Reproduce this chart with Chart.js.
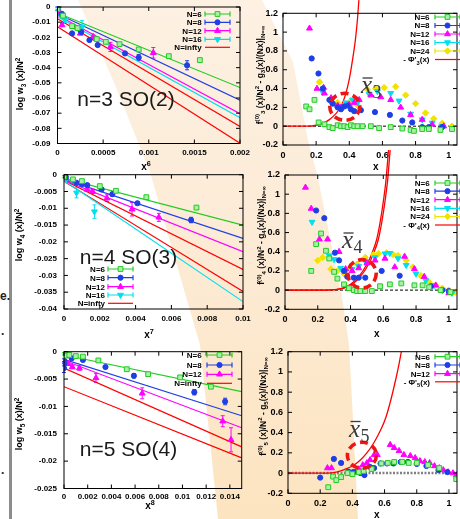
<!DOCTYPE html>
<html><head><meta charset="utf-8">
<script src="https://cdn.jsdelivr.net/npm/chart.js@4.4.0/dist/chart.umd.min.js"></script>
<style>
html,body{margin:0;padding:0;background:#fff;width:460px;height:519px;overflow:hidden;position:relative}
#wedge{position:absolute;left:0;top:0;width:460px;height:519px;
 clip-path:polygon(78px 0,115px 85px,150px 172px,200px 345px,218px 519px,358px 519px,352px 400px,349px 345px,343px 303px,318px 178px,308px 140px,293px 62px,262px 0);
 background:linear-gradient(180deg,#fdf1e3 0%,#fcebd6 45%,#fde4c0 100%)}
#vline{position:absolute;left:9px;top:0;width:3px;height:519px;background:#8c8c8c}
.frag{position:absolute;font:bold 12px 'Liberation Sans',Arial,sans-serif;color:#222}
</style></head><body>
<div id="wedge"></div>
<div id="vline"></div>
<div class="frag" style="left:0;top:289px">e.</div>
<div class="frag" style="left:1px;top:324px">.</div>
<div class="frag" style="left:1px;top:463px">.</div>
<script>
// ---------------- DATA ----------------
const seriesLabels = ['N=6','N=8','N=12','N=16','N=24','N=infty'];

// Panel 1: n=3 SO(2), x^6
const p1XTicks = [0,0.0005,0.001,0.0015,0.002];
const p1YTicks = [0,-0.01,-0.02,-0.03,-0.04,-0.05,-0.06,-0.07,-0.08,-0.09];
const p1N6x = [0,0.00006,0.00016,0.00022,0.00043,0.00053,0.00068,0.00089,0.00122,0.00156];
const p1N6y = [-0.0013,-0.0057,-0.0126,-0.0139,-0.0212,-0.023,-0.0245,-0.028,-0.0324,-0.035];
const p1N6e = [0.001,0.001,0.001,0.001,0.001,0.001,0.001,0.001,0.001,0.001];
const p1N8x = [0,0.00005,0.00016,0.00026,0.00035,0.00044,0.00074,0.00089,0.00142];
const p1N8y = [-0.0009,-0.0046,-0.0174,-0.0165,-0.0218,-0.0251,-0.0306,-0.0333,-0.0384];
const p1N8e = [0.001,0.001,0.001,0.001,0.001,0.001,0.001,0.002,0.003];
const p1N12x = [0.00002,0.00005,0.00025,0.00039,0.00058,0.00105];
const p1N12y = [-0.003,-0.0119,-0.0174,-0.0196,-0.0263,-0.0302];
const p1N12e = [0.001,0.001,0.001,0.001,0.003,0.0035];
const p1N16x = [0,0.00003,0.00008,0.00027];
const p1N16y = [-0.0016,-0.004,-0.0085,-0.013];
const p1N16e = [0.001,0.001,0.002,0.004];
const p1FitX = [0,0.002];
const p1FitN6 = [-0.004,-0.0531], p1FitN8 = [-0.0045,-0.0615], p1FitN12 = [-0.0055,-0.0703],
      p1FitN16 = [-0.0064,-0.073], p1FitInfA = [-0.0077,-0.0788], p1FitInfB = [-0.013,-0.0898];

// Panel 2: n=4 SO(3), x^7
const p2XTicks = [0,0.002,0.004,0.006,0.008,0.01];
const p2YTicks = [0,-0.005,-0.01,-0.015,-0.02,-0.025,-0.03,-0.035,-0.04];
const p2N6x = [0,0.0005,0.001,0.002,0.0029,0.0046,0.0074];
const p2N6y = [-0.0006,-0.0014,-0.0019,-0.0034,-0.0048,-0.0067,-0.0098];
const p2N6e = [0.0003,0.0003,0.0003,0.0003,0.0003,0.0003,0.0004];
const p2N8x = [0.0001,0.0007,0.001,0.0013,0.0021,0.0027,0.0041,0.0071];
const p2N8y = [-0.0007,-0.0024,-0.0028,-0.0031,-0.0044,-0.0058,-0.0085,-0.0135];
const p2N8e = [0.0003,0.0003,0.0003,0.0003,0.0004,0.0005,0.0005,0.0008];
const p2N12x = [0.0001,0.0013,0.0016,0.0024,0.0038,0.0053];
const p2N12y = [-0.001,-0.0044,-0.005,-0.007,-0.0103,-0.0127];
const p2N12e = [0.0003,0.0005,0.0006,0.001,0.002,0.0012];
const p2N16x = [0.0001,0.0007,0.0017];
const p2N16y = [-0.0015,-0.0054,-0.011];
const p2N16e = [0.0004,0.0015,0.002];
const p2FitX = [0,0.01];
const p2FitN6 = [-0.0011,-0.015], p2FitN8 = [-0.0014,-0.019], p2FitN12 = [-0.0017,-0.0229],
      p2FitN16 = [-0.0017,-0.0378], p2FitInfA = [-0.0017,-0.0282], p2FitInfB = [-0.002,-0.0348];

// Panel 3: n=5 SO(4), x^8
const p3XTicks = [0,0.002,0.004,0.006,0.008,0.01,0.012,0.014];
const p3YTicks = [0,-0.005,-0.01,-0.015,-0.02,-0.025];
const p3N6x = [0,0.0002,0.00045,0.001,0.0016,0.0029,0.0053,0.0071,0.0098,0.0124];
const p3N6y = [-0.0004,-0.0007,-0.0006,-0.0008,-0.0009,-0.0016,-0.0032,-0.0041,-0.0047,-0.0064];
const p3N6e = [0.0002,0.0002,0.0002,0.0002,0.0002,0.0002,0.0002,0.0002,0.0002,0.0002];
const p3N8x = [0,0,0,0.00065,0.0016,0.0035,0.0059,0.011,0.0136];
const p3N8y = [-0.0016,-0.0022,-0.003,-0.0012,-0.0015,-0.0028,-0.0044,-0.0074,-0.0091];
const p3N8e = [0.0003,0.0004,0.0008,0.0003,0.0003,0.0003,0.0004,0.0005,0.0006];
const p3N12x = [0.0001,0.00036,0.0007,0.0013,0.0027,0.0066,0.0134,0.0141];
const p3N12y = [-0.0019,-0.0022,-0.0028,-0.003,-0.0048,-0.0076,-0.0127,-0.0161];
const p3N12e = [0.0003,0.0003,0.0003,0.0004,0.0008,0.001,0.001,0.0022];
const p3FitX = [0,0.015];
const p3FitN6 = [-0.0006,-0.0073], p3FitN8 = [-0.0014,-0.0117], p3FitN12 = [-0.0016,-0.0139],
      p3FitInfA = [-0.003,-0.0174], p3FitInfB = [-0.0064,-0.0194];

// Right panels: x ticks / y ticks
const rXTicks = [0,0.2,0.4,0.6,0.8,1];
const rYTicks = [-0.2,0,0.2,0.4,0.6,0.8,1,1.2];
const zeroX = [0,1.05], zeroY = [0,0];

// RT n=3
const rtN6x = [0.14,0.16,0.19,0.215,0.25,0.28,0.30,0.33,0.35,0.37,0.39,0.41,0.43,0.45,0.48,0.53,0.58,0.65,0.72,0.77,0.79,0.84,0.88,0.95,1.02];
const rtN6y = [0.21,0.18,0.28,0.04,0.02,-0.01,-0.02,0.01,0.0,0.0,-0.01,0.01,0.0,0.0,0.0,0.0,-0.02,-0.01,-0.025,-0.04,-0.05,-0.03,-0.03,-0.04,-0.03];
const rtN8x = [0.173,0.214,0.24,0.28,0.30,0.33,0.35,0.37,0.39,0.41,0.43,0.47,0.555,0.645,0.72,0.78,0.84,0.88,0.96];
const rtN8y = [0.72,0.56,0.40,0.28,0.24,0.20,0.18,0.21,0.22,0.18,0.16,0.17,0.15,0.12,0.06,0.04,-0.01,-0.01,-0.01];
const rtN12x = [0.16,0.205,0.245,0.25,0.29,0.33,0.35,0.40,0.43,0.46,0.53,0.59,0.65,0.71,0.77,0.84,0.90,0.97];
const rtN12y = [1.04,0.40,0.41,0.35,0.30,0.22,0.20,0.23,0.25,0.28,0.33,0.31,0.28,0.20,0.12,0.07,0.02,0.0];
const rtN16x = [0.24,0.29,0.32,0.35,0.38,0.42,0.45,0.52,0.57,0.65,0.70,0.77,0.84,0.90,0.96];
const rtN16y = [0.36,0.25,0.22,0.21,0.25,0.28,0.25,0.34,0.37,0.35,0.27,0.13,0.07,0.035,0.0];
const rtN24x = [0.22,0.33,0.37,0.41,0.45,0.51,0.56,0.61,0.68,0.74,0.80,0.86,0.91,0.96,1.02];
const rtN24y = [0.47,0.25,0.22,0.27,0.22,0.39,0.40,0.41,0.42,0.33,0.24,0.14,0.08,0.03,0.0];
const rtPhiX = [0,0.15,0.2,0.24,0.28,0.315,0.35,0.378,0.4,0.42,0.437,0.45,0.458];
const rtPhiY = [0,0,0.01,0.03,0.07,0.125,0.21,0.34,0.5,0.71,0.92,1.15,1.34];

// RM n=4
const rmN6x = [0.16,0.19,0.22,0.25,0.27,0.30,0.32,0.36,0.39,0.42,0.44,0.46,0.49,0.53,0.58,0.64,0.71,0.79,0.84,0.88,0.95,1.01];
const rmN6y = [0.20,0.48,0.59,0.41,0.33,0.19,0.12,0.06,0.02,0.0,-0.01,-0.01,-0.01,-0.01,0.04,0.06,0.07,0.05,0.05,0.03,0.0,-0.02];
const rmN8x = [0.19,0.24,0.305,0.33,0.36,0.38,0.42,0.45,0.49,0.59,0.70,0.89,0.96,1.0];
const rmN8y = [0.83,0.75,0.39,0.31,0.20,0.14,0.13,0.13,0.13,0.20,0.15,0.04,0.0,-0.01];
const rmN12x = [0.125,0.16,0.21,0.26,0.33,0.37,0.41,0.45,0.50,0.55,0.61,0.67,0.73,0.79,0.85,0.92,1.0];
const rmN12y = [1.07,0.85,0.53,0.53,0.40,0.22,0.20,0.23,0.28,0.31,0.33,0.24,0.35,0.22,0.14,0.05,-0.03];
const rmN16x = [0.165,0.27,0.30,0.34,0.37,0.41,0.45,0.49,0.55,0.61,0.64,0.69,0.74,0.80,0.86,0.91,0.96,1.02];
const rmN16y = [0.71,0.36,0.32,0.23,0.20,0.22,0.25,0.30,0.34,0.38,0.385,0.33,0.26,0.17,0.10,0.05,0.0,-0.03];
const rmN24x = [0.20,0.23,0.28,0.32,0.36,0.40,0.44,0.49,0.54,0.57,0.62,0.66,0.69,0.74,0.78,0.83,0.88,0.92,0.96,1.0,1.04];
const rmN24y = [0.31,0.34,0.22,0.20,0.17,0.22,0.27,0.34,0.37,0.38,0.39,0.37,0.36,0.31,0.24,0.15,0.08,0.05,0.02,0.0,-0.02];
const rmPhiAx = [0,0.25,0.3,0.35,0.4,0.45,0.5,0.53,0.56,0.58,0.6,0.615,0.632];
const rmPhiAy = [0,0,0.005,0.02,0.06,0.14,0.27,0.38,0.53,0.7,0.92,1.12,1.46];
const rmPhiBx = [0,0.26,0.31,0.36,0.41,0.46,0.51,0.54,0.57,0.59,0.61,0.625,0.642];
const rmPhiBy = [0,0,0.005,0.02,0.06,0.14,0.27,0.38,0.53,0.7,0.92,1.12,1.46];

// RB n=5
const rbN6x = [0.25,0.28,0.30,0.33,0.37,0.40,0.44,0.47,0.52,0.58,0.62,0.66,0.71,0.75,0.80,0.87,0.94,1.045];
const rbN6y = [-0.14,-0.035,-0.07,-0.04,0.0,-0.01,0.01,0.02,0.04,0.095,0.10,0.11,0.11,0.10,0.10,0.08,0.05,-0.06];
const rbN8x = [0.20,0.285,0.33,0.375,0.405,0.425,0.45,0.475,0.51,0.535,0.575,0.615,0.655,0.70,0.745,0.80,0.86,0.935,0.99];
const rbN8y = [-0.045,0.14,0.10,0.015,0.01,0.015,0.0,-0.02,0.06,0.05,0.095,0.095,0.095,0.11,0.11,0.09,0.07,0.03,0.01];
const rbN12x = [0.245,0.27,0.44,0.465,0.49,0.51,0.535,0.555,0.635,0.66,0.69,0.72,0.76,0.79,0.82,0.85,0.88,0.91,0.94,0.965,0.995,1.025,1.045];
const rbN12y = [0.05,0.05,0.04,0.08,0.10,0.13,0.18,0.18,0.28,0.25,0.22,0.18,0.17,0.15,0.12,0.11,0.10,0.07,0.05,0.03,0.01,0.0,-0.02];
const rbPhiX = [0,0.25,0.3,0.35,0.4,0.45,0.49,0.53,0.58,0.61,0.64,0.67,0.69,0.71];
const rbPhiY = [0,0,0.01,0.035,0.07,0.13,0.2,0.29,0.44,0.56,0.73,0.93,1.08,1.25];

// ---------------- STYLE / HELPERS ----------------
const F = "'Liberation Sans', Arial, sans-serif";
const SERIF = "'Liberation Serif','DejaVu Serif',serif";
Chart.defaults.font.family = F;
const COL = {g:'#22cc22', gFill:'#a8f0a8', b:'#1f3fe6', m:'#ff00ff', c:'#00dff0', y:'#f2e200', r:'#ff0000'};
const STY = {
  n6:{ps:'rect', r:3.4, col:COL.g, fill:COL.gFill},
  n8:{ps:'circle', r:2.6, col:COL.b, fill:COL.b},
  n12:{ps:'triangle', r:3.4, col:COL.m, fill:COL.m},
  n16:{ps:'triangle', r:3.4, col:COL.c, fill:COL.c, rot:180},
  n24:{ps:'rectRot', r:3.2, col:COL.y, fill:COL.y}
};
const pts = (xs, ys) => xs.map((x,i)=>({x, y:ys[i]}));
function ptDS(st, xs, ys, err){
  return {data:pts(xs,ys), showLine:false, pointStyle:st.ps, pointRadius:st.r, pointRotation:st.rot||0,
    pointBorderColor:st.col, pointBackgroundColor:st.fill, pointBorderWidth:1, borderColor:st.col,
    backgroundColor:st.fill, errY:err, order:1};
}
function lnDS(color, xs, ys, extra){
  return Object.assign({data:pts(xs,ys), showLine:true, borderColor:color, borderWidth:1.2, pointRadius:0,
    pointHoverRadius:0, fill:false, order:3}, extra||{});
}
const fmt = v => String(Number(Number(v).toPrecision(6)));

function drawRich(ctx, segs, x, y, t){
  ctx.save(); ctx.translate(x,y); if(t.rot) ctx.rotate(t.rot);
  ctx.fillStyle = t.color||'#000'; ctx.textBaseline='alphabetic'; ctx.textAlign='left';
  const base = t.size;
  const fontOf = s => `${t.style||''} ${t.weight||'bold'} ${s.s ? base*0.72 : base}px ${t.family||F}`;
  let w = 0; segs.forEach(s=>{ ctx.font=fontOf(s); s._w=ctx.measureText(s.t).width; w+=s._w; });
  let cx = t.align==='left' ? 0 : t.align==='right' ? -w : -w/2;
  const by = t.vmid ? base*0.36 : 0;
  segs.forEach(s=>{ ctx.font=fontOf(s); const dy = s.s===1 ? -base*0.4 : s.s===-1 ? base*0.28 : 0;
    ctx.fillText(s.t, cx, by+dy); cx += s._w; });
  ctx.restore();
}
function drawXbar(ctx, x, y, n){
  ctx.save(); ctx.fillStyle='#3a3a3a'; ctx.strokeStyle='#3a3a3a';
  ctx.font = `italic 25px ${SERIF}`; ctx.textBaseline='alphabetic'; ctx.textAlign='left';
  const w = ctx.measureText('x').width; ctx.fillText('x', x, y);
  ctx.lineWidth = 1.3; ctx.beginPath(); ctx.moveTo(x+1.5, y-15); ctx.lineTo(x+w+0.5, y-15); ctx.stroke();
  ctx.font = `18px ${SERIF}`; ctx.fillText(n, x+w+0.5, y+5);
  ctx.restore();
}

const gpPlugin = {
  id:'gp',
  beforeDatasetsDraw(chart, args, o){
    const ctx = chart.ctx, ys = chart.scales.y;
    chart.data.datasets.forEach((ds,i)=>{
      if(!ds.errY) return;
      const meta = chart.getDatasetMeta(i);
      ctx.save(); ctx.strokeStyle = ds.borderColor; ctx.lineWidth = 1;
      ctx.beginPath();
      meta.data.forEach((el,j)=>{
        const e = ds.errY[j]; if(!e) return; const v = ds.data[j].y;
        const y1 = ys.getPixelForValue(v+e), y2 = ys.getPixelForValue(v-e);
        ctx.moveTo(el.x,y1); ctx.lineTo(el.x,y2);
        ctx.moveTo(el.x-2,y1); ctx.lineTo(el.x+2,y1); ctx.moveTo(el.x-2,y2); ctx.lineTo(el.x+2,y2);
      });
      ctx.stroke(); ctx.restore();
    });
  },
  afterDraw(chart, args, o){
    const ctx = chart.ctx, a = chart.chartArea, xs = chart.scales.x, ys = chart.scales.y;
    const ox = o.box.x, oy = o.box.y;
    ctx.save();
    ctx.strokeStyle='#000'; ctx.lineWidth=1;
    ctx.strokeRect(a.left, a.top, a.right-a.left, a.bottom-a.top);
    ctx.beginPath();
    xs.ticks.forEach(t=>{ const px = xs.getPixelForValue(t.value);
      ctx.moveTo(px,a.bottom); ctx.lineTo(px,a.bottom-4); ctx.moveTo(px,a.top); ctx.lineTo(px,a.top+4); });
    ys.ticks.forEach(t=>{ const py = ys.getPixelForValue(t.value);
      ctx.moveTo(a.left,py); ctx.lineTo(a.left+4,py); ctx.moveTo(a.right,py); ctx.lineTo(a.right-4,py); });
    ctx.stroke();
    (o.ellipses||[]).forEach(e=>{
      ctx.save(); ctx.strokeStyle='#ee1515'; ctx.lineWidth=3.6; ctx.setLineDash([8,4.5]);
      ctx.beginPath(); ctx.ellipse(xs.getPixelForValue(e.x), ys.getPixelForValue(e.y), e.rx, e.ry, 0, 0, Math.PI*2);
      ctx.stroke(); ctx.restore();
    });
    (o.texts||[]).forEach(t=>drawRich(ctx, t.segs, t.x-ox, t.y-oy, t));
    (o.xbars||[]).forEach(t=>drawXbar(ctx, t.x-ox, t.y-oy, t.n));
    if(o.legend){
      const L = o.legend;
      L.items.forEach((it,k)=>{
        const y = L.ys[k]-oy, x1 = L.x1-ox, x2 = L.x2-ox;
        drawRich(ctx, it.segs, L.right-ox, y, {size:8, align:'right', vmid:true});
        const ds = chart.data.datasets[it.ds];
        ctx.save(); ctx.strokeStyle = ds.borderColor; ctx.lineWidth = 1.2; ctx.setLineDash([]);
        ctx.beginPath(); ctx.moveTo(x1,y); ctx.lineTo(x2,y);
        if(it.err){ ctx.moveTo(x1,y-2.5); ctx.lineTo(x1,y+2.5); ctx.moveTo(x2,y-2.5); ctx.lineTo(x2,y+2.5); }
        ctx.stroke();
        if(it.marker){
          ctx.fillStyle = ds.pointBackgroundColor; ctx.strokeStyle = ds.pointBorderColor; ctx.lineWidth = 1;
          Chart.helpers.drawPoint(ctx, {pointStyle:ds.pointStyle, radius:ds.pointRadius, rotation:ds.pointRotation||0, borderWidth:1}, (x1+x2)/2, y);
        }
        ctx.restore();
      });
    }
    ctx.restore();
  }
};

function panel(box, rect, xr, yr, xt, yt, tsize, xpad, ypad, datasets, gp){
  const cv = document.createElement('canvas');
  cv.width = box.w; cv.height = box.h;
  cv.style.cssText = `position:absolute;left:${box.x}px;top:${box.y}px;width:${box.w}px;height:${box.h}px`;
  document.body.appendChild(cv);
  gp.box = box;
  const tickFont = {family:F, weight:'bold', size:tsize};
  return new Chart(cv.getContext('2d'), {
    type:'scatter',
    data:{datasets},
    options:{
      responsive:false, animation:false, devicePixelRatio:1, events:[],
      layout:{padding:{left:0, top:rect.T-box.y, right:box.x+box.w-rect.R, bottom:0}},
      plugins:{legend:{display:false}, tooltip:{enabled:false}, gp},
      scales:{
        x:{type:'linear', min:xr[0], max:xr[1],
          afterBuildTicks:s=>{ s.ticks = xt.map(v=>({value:v})); },
          afterFit:s=>{ s.height = box.y+box.h-rect.B; s.paddingLeft=0; s.paddingRight=0; },
          grid:{display:false, drawTicks:false}, border:{display:false},
          ticks:{padding:xpad, font:tickFont, color:'#000', autoSkip:false, maxRotation:0, minRotation:0, callback:fmt}},
        y:{type:'linear', min:yr[0], max:yr[1],
          afterBuildTicks:s=>{ s.ticks = yt.map(v=>({value:v})); },
          afterFit:s=>{ s.width = rect.L-box.x; s.paddingTop=0; s.paddingBottom=0; },
          grid:{display:false, drawTicks:false}, border:{display:false},
          ticks:{padding:ypad, font:tickFont, color:'#000', autoSkip:false, callback:fmt}}
      }
    },
    plugins:[gpPlugin]
  });
}
const R90 = -Math.PI/2;
const lg = (t)=>[{t}];

// ---------------- PANEL 1 ----------------
panel({x:0,y:0,w:250,h:172},{L:57.5,T:7,R:240,B:143.5},[0,0.002],[-0.09,0],p1XTicks,p1YTicks,8,4.5,7,[
  ptDS(STY.n6,p1N6x,p1N6y,p1N6e), ptDS(STY.n8,p1N8x,p1N8y,p1N8e), ptDS(STY.n12,p1N12x,p1N12y,p1N12e), ptDS(STY.n16,p1N16x,p1N16y,p1N16e),
  lnDS(COL.g,p1FitX,p1FitN6), lnDS(COL.b,p1FitX,p1FitN8), lnDS(COL.m,p1FitX,p1FitN12), lnDS(COL.c,p1FitX,p1FitN16),
  lnDS(COL.r,p1FitX,p1FitInfA), lnDS(COL.r,p1FitX,p1FitInfB)
],{
  texts:[
    {segs:[{t:'log w'},{t:'3',s:-1},{t:' (x)/N'},{t:'2',s:1}], x:20, y:84, rot:R90, size:9, vmid:true},
    {segs:[{t:'x'},{t:'6',s:1}], x:146, y:166, size:10, vmid:true},
    {segs:[{t:'n=3 SO(2)'}], x:126, y:98.3, size:21, weight:'normal', color:'#1a1a1a', vmid:true}
  ],
  legend:{right:201.7, x1:205, x2:230, ys:[14,22.3,30.7,39.3,47.3], items:[
    {segs:lg(seriesLabels[0]), ds:0, marker:true, err:true},
    {segs:lg(seriesLabels[1]), ds:1, marker:true, err:true},
    {segs:lg(seriesLabels[2]), ds:2, marker:true, err:true},
    {segs:lg(seriesLabels[3]), ds:3, marker:true, err:true},
    {segs:lg(seriesLabels[5]), ds:8}
  ]}
});

// ---------------- PANEL 2 ----------------
panel({x:0,y:165,w:252,h:178},{L:64,T:174.7,R:243,B:309},[0,0.01],[-0.04,0],p2XTicks,p2YTicks,8,4.5,7,[
  ptDS(STY.n6,p2N6x,p2N6y,p2N6e), ptDS(STY.n8,p2N8x,p2N8y,p2N8e), ptDS(STY.n12,p2N12x,p2N12y,p2N12e), ptDS(STY.n16,p2N16x,p2N16y,p2N16e),
  lnDS(COL.g,p2FitX,p2FitN6), lnDS(COL.b,p2FitX,p2FitN8), lnDS(COL.m,p2FitX,p2FitN12), lnDS(COL.c,p2FitX,p2FitN16),
  lnDS(COL.r,p2FitX,p2FitInfA), lnDS(COL.r,p2FitX,p2FitInfB)
],{
  texts:[
    {segs:[{t:'log w'},{t:'4',s:-1},{t:' (x)/N'},{t:'2',s:1}], x:19, y:235, rot:R90, size:9, vmid:true},
    {segs:[{t:'x'},{t:'7',s:1}], x:149, y:334, size:10, vmid:true},
    {segs:[{t:'n=4 SO(3)'}], x:128.5, y:256, size:21, weight:'normal', color:'#1a1a1a', vmid:true}
  ],
  legend:{right:105, x1:108, x2:133, ys:[269,277.7,286.7,295,303.3], items:[
    {segs:lg(seriesLabels[0]), ds:0, marker:true, err:true},
    {segs:lg(seriesLabels[1]), ds:1, marker:true, err:true},
    {segs:lg(seriesLabels[2]), ds:2, marker:true, err:true},
    {segs:lg(seriesLabels[3]), ds:3, marker:true, err:true},
    {segs:lg(seriesLabels[5]), ds:8}
  ]}
});

// ---------------- PANEL 3 ----------------
panel({x:0,y:342,w:250,h:177},{L:64,T:351.7,R:241.7,B:488.5},[0,0.015],[-0.025,0],p3XTicks,p3YTicks,8,3.5,7,[
  ptDS(STY.n6,p3N6x,p3N6y,p3N6e), ptDS(STY.n8,p3N8x,p3N8y,p3N8e), ptDS(STY.n12,p3N12x,p3N12y,p3N12e),
  lnDS(COL.g,p3FitX,p3FitN6), lnDS(COL.b,p3FitX,p3FitN8), lnDS(COL.m,p3FitX,p3FitN12),
  lnDS(COL.r,p3FitX,p3FitInfA), lnDS(COL.r,p3FitX,p3FitInfB)
],{
  texts:[
    {segs:[{t:'log w'},{t:'5',s:-1},{t:' (x)/N'},{t:'2',s:1}], x:19, y:424, rot:R90, size:9, vmid:true},
    {segs:[{t:'x'},{t:'8',s:1}], x:150, y:505, size:10, vmid:true},
    {segs:[{t:'n=5 SO(4)'}], x:128.5, y:448.5, size:21, weight:'normal', color:'#1a1a1a', vmid:true}
  ],
  legend:{right:201.7, x1:207, x2:232, ys:[355,365,374.3,383.3], items:[
    {segs:lg(seriesLabels[0]), ds:0, marker:true, err:true},
    {segs:lg(seriesLabels[1]), ds:1, marker:true, err:true},
    {segs:lg(seriesLabels[2]), ds:2, marker:true, err:true},
    {segs:lg(seriesLabels[5]), ds:6}
  ]}
});

// ---------------- RIGHT PANELS ----------------
const zeroDS = (extra)=>lnDS('#000', zeroX, zeroY, Object.assign({borderWidth:1, borderDash:[3,2], order:6}, extra||{}));
const phiDS = (xs, ys, clip)=>lnDS(COL.r, xs, ys, {borderWidth:1.3, cubicInterpolationMode:'monotone', clip: clip ? false : undefined, order:2});
const ftitle = n => [{t:'f'},{t:'(0)',s:1},{t:n,s:-1},{t:' (x)/N'},{t:'2',s:1},{t:' - g'},{t:n,s:-1},{t:'(x)/(Nx)|'},{t:'N=∞',s:-1}];
const phiLabel = n => [{t:"- Φ'"},{t:n,s:-1},{t:'(x)'}];

// RT
panel({x:240,y:0,w:222,h:172},{L:283,T:13.3,R:461,B:145},[0,1.05],[-0.2,1.2],rXTicks,rYTicks,9,5,5,[
  ptDS(STY.n6,rtN6x,rtN6y), ptDS(STY.n8,rtN8x,rtN8y), ptDS(STY.n12,rtN12x,rtN12y), ptDS(STY.n16,rtN16x,rtN16y), ptDS(STY.n24,rtN24x,rtN24y),
  phiDS(rtPhiX,rtPhiY,true), zeroDS()
],{
  texts:[
    {segs:ftitle('3'), x:259.5, y:75, rot:R90, size:8.5, vmid:true},
    {segs:[{t:'x'}], x:375.7, y:166, size:10, vmid:true}
  ],
  xbars:[{x:361, y:93, n:'3'}],
  ellipses:[{x:0.373, y:0.206, rx:15, ry:13.5}],
  legend:{right:429.5, x1:435, x2:460, ys:[17,25.5,34,42.5,51,59.5], items:[
    {segs:lg(seriesLabels[0]), ds:0, marker:true, err:true},
    {segs:lg(seriesLabels[1]), ds:1, marker:true, err:true},
    {segs:lg(seriesLabels[2]), ds:2, marker:true, err:true},
    {segs:lg(seriesLabels[3]), ds:3, marker:true, err:true},
    {segs:lg(seriesLabels[4]), ds:4, marker:true, err:true},
    {segs:phiLabel('3'), ds:5}
  ]}
});

// RM
panel({x:240,y:148,w:222,h:195},{L:285,T:175,R:461,B:309.3},[0,1.05],[-0.2,1.2],rXTicks,rYTicks,9,5,5,[
  ptDS(STY.n6,rmN6x,rmN6y), ptDS(STY.n8,rmN8x,rmN8y), ptDS(STY.n12,rmN12x,rmN12y), ptDS(STY.n16,rmN16x,rmN16y), ptDS(STY.n24,rmN24x,rmN24y),
  phiDS(rmPhiAx,rmPhiAy,true), phiDS(rmPhiBx,rmPhiBy,true), zeroDS()
],{
  texts:[
    {segs:ftitle('4'), x:261, y:235.5, rot:R90, size:8.5, vmid:true},
    {segs:[{t:'x'}], x:376.7, y:333, size:10, vmid:true}
  ],
  xbars:[{x:342, y:248, n:'4'}],
  ellipses:[{x:0.47, y:0.17, rx:14.2, ry:14.2}],
  legend:{right:429.7, x1:435, x2:460, ys:[183,191.2,199.7,208.3,216.5,225], items:[
    {segs:lg(seriesLabels[0]), ds:0, marker:true, err:true},
    {segs:lg(seriesLabels[1]), ds:1, marker:true, err:true},
    {segs:lg(seriesLabels[2]), ds:2, marker:true, err:true},
    {segs:lg(seriesLabels[3]), ds:3, marker:true, err:true},
    {segs:lg(seriesLabels[4]), ds:4, marker:true, err:true},
    {segs:phiLabel('4'), ds:5}
  ]}
});

// RB
panel({x:240,y:342,w:222,h:177},{L:288,T:351.7,R:460,B:493.3},[0,1.05],[-0.2,1.2],rXTicks,rYTicks,9,5,5,[
  ptDS(STY.n6,rbN6x,rbN6y), ptDS(STY.n8,rbN8x,rbN8y), ptDS(STY.n12,rbN12x,rbN12y),
  phiDS(rbPhiX,rbPhiY,false), zeroDS({borderColor:'#808080', borderWidth:2.4, borderDash:[2,1.5]})
],{
  texts:[
    {segs:ftitle('5'), x:262.5, y:406.5, rot:R90, size:8.5, vmid:true},
    {segs:[{t:'x'}], x:376.7, y:514.5, size:10, vmid:true}
  ],
  xbars:[{x:349, y:436.5, n:'5'}],
  ellipses:[{x:0.459, y:0.176, rx:14.5, ry:13}],
  legend:{right:430, x1:435, x2:460, ys:[356.7,365,373.7,381.8], items:[
    {segs:lg(seriesLabels[0]), ds:0, marker:true, err:true},
    {segs:lg(seriesLabels[1]), ds:1, marker:true, err:true},
    {segs:lg(seriesLabels[2]), ds:2, marker:true, err:true},
    {segs:phiLabel('5'), ds:3}
  ]}
});
</script>
</body></html>
